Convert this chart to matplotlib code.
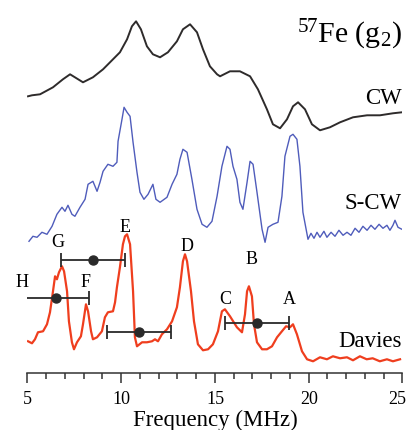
import matplotlib.pyplot as plt
import matplotlib.ticker as ticker

plt.rcParams['font.family'] = ['Liberation Serif', 'DejaVu Serif']
plt.rcParams['mathtext.fontset'] = 'custom'
plt.rcParams['mathtext.rm'] = 'Liberation Serif'
plt.rcParams['mathtext.it'] = 'Liberation Serif:italic'

# CW trace (frequency MHz, intensity)
cw_freq = [5.03, 5.24, 5.67, 6.36, 6.89, 7.27, 7.53, 7.96, 8.49, 9.03, 9.56, 9.93,
           10.31, 10.57, 10.79, 11.05, 11.37, 11.69, 12.07, 12.49, 12.97, 13.29,
           13.67, 14.04, 14.36, 14.73, 15.11, 15.27, 15.80, 16.33, 16.87, 17.29,
           17.77, 18.09, 18.47, 18.84, 19.16, 19.43, 19.80, 20.17, 20.60, 21.13,
           21.67, 22.36, 23.11, 23.80, 24.49, 24.97]
cw_int = [37, 38, 39, 46, 54, 59, 56, 51, 56, 64, 74, 81,
          94, 107, 112, 104, 87, 79, 76, 81, 92, 104,
          109, 101, 84, 67, 59, 57, 62, 62, 57, 44,
          24, 9, 5, 14, 27, 31, 24, 9, 3, 6,
          11, 16, 18, 18, 20, 21]

# S-CW trace
scw_freq = [5.08, 5.29, 5.51, 5.77, 6.04, 6.31, 6.57, 6.84, 7.00, 7.16, 7.37, 7.53,
            7.80, 8.07, 8.23, 8.49, 8.71, 8.87, 9.03, 9.29, 9.56, 9.77, 9.83, 10.04,
            10.15, 10.31, 10.47, 10.63, 10.84, 11.00, 11.21, 11.43, 11.69, 11.85,
            12.07, 12.44, 12.71, 12.97, 13.13, 13.29, 13.51, 13.77, 14.04, 14.31,
            14.57, 14.84, 15.11, 15.37, 15.64, 15.80, 15.96, 16.17, 16.33, 16.49,
            16.71, 16.87, 17.03, 17.24, 17.51, 17.67, 17.83, 18.09, 18.36, 18.57,
            18.73, 19.00, 19.16, 19.37, 19.53, 19.69, 19.96, 20.12, 20.28, 20.44,
            20.60, 20.81, 20.97, 21.19, 21.40, 21.61, 21.83, 22.04, 22.25, 22.47,
            22.68, 22.89, 23.11, 23.32, 23.53, 23.75, 23.96, 24.17, 24.33, 24.49,
            24.60, 24.76, 24.97]
scw_int = [2, 7, 6, 11, 9, 17, 29, 36, 32, 38, 29, 27,
           36, 44, 59, 62, 52, 61, 72, 79, 77, 81, 102, 124,
           136, 131, 127, 101, 71, 51, 44, 49, 59, 44,
           41, 46, 59, 69, 84, 94, 91, 64, 34, 19,
           16, 22, 47, 77, 97, 94, 77, 64, 41, 34,
           61, 82, 79, 51, 14, 1, 16, 19, 21, 47,
           87, 107, 109, 104, 77, 31, 4, 10, 5, 11,
           6, 12, 6, 11, 7, 13, 8, 11, 8, 15,
           11, 17, 13, 18, 14, 19, 15, 18, 13, 18,
           23, 16, 14]

# Davies trace
dav_freq = [5.03, 5.24, 5.40, 5.56, 5.83, 6.04, 6.20, 6.36, 6.47, 6.57, 6.68, 6.84,
            6.95, 7.11, 7.21, 7.37, 7.48, 7.64, 7.85, 7.96, 8.12, 8.23, 8.39, 8.49,
            8.71, 8.97, 9.13, 9.29, 9.56, 9.67, 9.77, 9.93, 10.09, 10.20, 10.31,
            10.47, 10.63, 10.73, 10.84, 11.11, 11.37, 11.64, 11.80, 11.96, 12.17,
            12.44, 12.71, 12.97, 13.13, 13.29, 13.40, 13.51, 13.72, 13.88, 14.09,
            14.36, 14.63, 14.89, 15.16, 15.37, 15.53, 15.80, 16.17, 16.44, 16.60,
            16.71, 16.81, 16.97, 17.08, 17.24, 17.51, 17.77, 18.04, 18.31, 18.57,
            18.79, 19.00, 19.16, 19.37, 19.64, 19.91, 20.23, 20.60, 20.97, 21.29,
            21.67, 22.04, 22.36, 22.73, 23.09, 23.41, 23.79, 24.17, 24.49, 24.87]
dav_int = [32, 30, 34, 41, 42, 49, 61, 82, 97, 94, 101, 107,
           102, 82, 52, 31, 24, 31, 37, 49, 69, 62, 42, 34,
           36, 42, 56, 61, 62, 71, 86, 106, 129, 137, 139,
           129, 82, 36, 27, 31, 31, 32, 34, 32, 39,
           44, 52, 66, 86, 112, 119, 112, 82, 52, 29,
           23, 24, 29, 42, 62, 64, 57, 46, 41, 59,
           82, 87, 77, 49, 31, 24, 24, 27, 36, 42,
           47, 46, 49, 39, 22, 14, 12, 16, 14, 17,
           15, 16, 13, 17, 14, 15, 12, 14, 12, 14]

# peak labels
peak_names = ['H', 'G', 'F', 'E', 'D', 'C', 'B', 'A']
peak_x = [4.71, 6.63, 8.12, 10.20, 13.51, 15.53, 16.97, 18.95]
peak_y = [92, 132, 92, 147, 128, 75, 115, 75]

# horizontal range bars (centre, half width, height)
bar_center = [6.52, 8.51, 10.96, 17.25]
bar_half = [1.74, 1.71, 1.72, 1.72]
bar_y = [75, 113, 41, 50]

tick_vals = [5, 10, 15, 20, 25]

cw_offset = 240
scw_offset = 130

fig = plt.figure(figsize=(4.09, 4.31), dpi=100)
ax = fig.add_axes([0.0672, 0.1316, 0.9169, 0.8684])

ax.plot(cw_freq, [v + cw_offset for v in cw_int], color='#2e2b2b', lw=1.4)
ax.plot(scw_freq, [v + scw_offset for v in scw_int], color='#4f5cbb', lw=1.0)
ax.plot(dav_freq, dav_int, color='#ef3e1e', lw=1.6)

ax.errorbar(bar_center, bar_y, xerr=bar_half, fmt='o', color='#2a2a2a',
            ms=6.5, elinewidth=1.3, capsize=5, capthick=1.3)

for name, px, py in zip(peak_names, peak_x, peak_y):
    ax.text(px, py, name, fontsize=13, ha='center', va='center', clip_on=False)

ax.text(24.97, 276, 'CW', fontsize=16.5, ha='right', va='center')
ax.text(24.97, 171, 'S-CW', fontsize=16.5, ha='right', va='center')
ax.text(24.97, 33, 'Davies', fontsize=16.5, ha='right', va='center')
ax.text(24.97, 331, r'$^{57}$Fe ($\mathregular{g_2}$)', fontsize=21.5,
        ha='right', va='baseline')

ax.set_xlim(5, 25)
ax.set_ylim(0, 374.3)
for s in ['top', 'left', 'right']:
    ax.spines[s].set_visible(False)
ax.spines['bottom'].set_linewidth(1.1)
ax.spines['bottom'].set_color('#333333')
ax.set_yticks([])
ax.set_xticks(tick_vals)
# last label drawn separately so it is not cut by the figure edge
ax.set_xticklabels([str(t) for t in tick_vals[:-1]] + [''])
ax.xaxis.set_minor_locator(ticker.MultipleLocator(1))
ax.tick_params(axis='x', which='major', direction='out', length=7, width=1.1,
               color='#333333', labelsize=13, pad=5)
ax.tick_params(axis='x', which='minor', direction='out', length=4.5, width=1.1,
               color='#333333')
ax.annotate(str(tick_vals[-1]), xy=(tick_vals[-1], 0),
            xycoords=('data', 'axes fraction'), xytext=(-4, -12),
            textcoords='offset points', ha='center', va='top', fontsize=13)
ax.set_xlabel('Frequency (MHz)', fontsize=16.5, labelpad=1)
ax.patch.set_alpha(0)

fig.savefig('out.png', dpi=100)
